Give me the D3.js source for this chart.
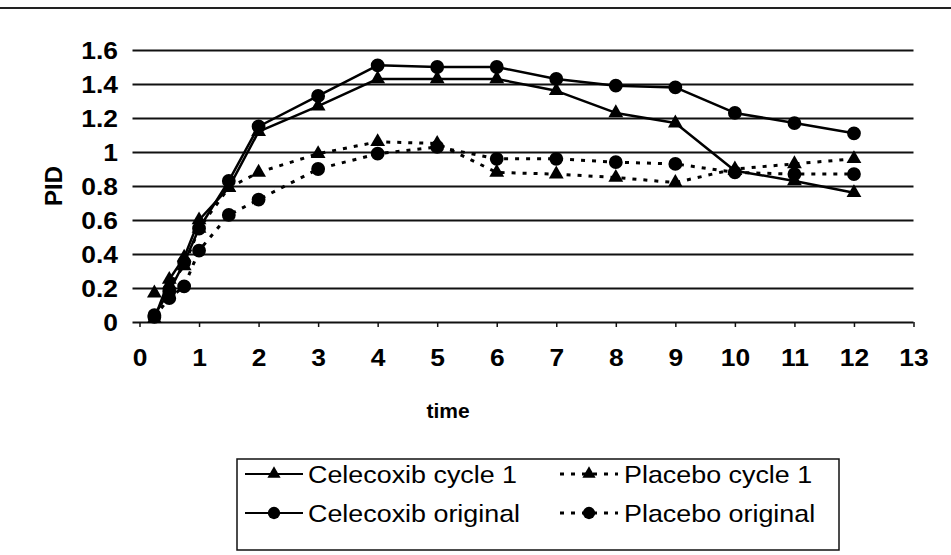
<!DOCTYPE html>
<html>
<head>
<meta charset="utf-8">
<script src="https://cdn.jsdelivr.net/npm/d3@7/dist/d3.min.js"></script>
<style>
  html, body { margin: 0; padding: 0; background: #fff; }
  svg { display: block; font-family: "Liberation Sans", Arial, sans-serif; }
</style>
</head>
<body>
<svg id="chart" width="951" height="555"></svg>
<script>
// Measurement times (hours)
const times = [0.25, 0.5, 0.75, 1, 1.5, 2, 3, 4, 5, 6, 7, 8, 9, 10, 11, 12];

// Pain intensity difference per series
const celecoxibCycle1   = [0.02, 0.25, 0.38, 0.60, 0.79, 1.12, 1.27, 1.43, 1.43, 1.43, 1.36, 1.23, 1.17, 0.89, 0.83, 0.76];
const placeboCycle1     = [0.17, 0.22, 0.33, 0.55, 0.79, 0.88, 0.99, 1.06, 1.05, 0.88, 0.87, 0.85, 0.82, 0.90, 0.93, 0.96];
const celecoxibOriginal = [0.04, 0.18, 0.35, 0.55, 0.83, 1.15, 1.33, 1.51, 1.50, 1.50, 1.43, 1.39, 1.38, 1.23, 1.17, 1.11];
const placeboOriginal   = [0.03, 0.14, 0.21, 0.42, 0.63, 0.72, 0.90, 0.99, 1.03, 0.96, 0.96, 0.94, 0.93, 0.88, 0.87, 0.87];

const seriesNames = ["Celecoxib cycle 1", "Placebo cycle 1", "Celecoxib original", "Placebo original"];
const seriesValues = [celecoxibCycle1, placeboCycle1, celecoxibOriginal, placeboOriginal];

const xTicks = [0, 1, 2, 3, 4, 5, 6, 7, 8, 9, 10, 11, 12, 13];
const yTicks = [0, 0.2, 0.4, 0.6, 0.8, 1, 1.2, 1.4, 1.6];

const xTitle = "time";
const yTitle = "PID";

// Visual styling per series
const styles = [
  { symbol: d3.symbolTriangle, dashed: false },
  { symbol: d3.symbolTriangle, dashed: true },
  { symbol: d3.symbolCircle,   dashed: false },
  { symbol: d3.symbolCircle,   dashed: true }
];
const symbolSize = s => s === d3.symbolTriangle ? 95 : 150;
const DASH = "4 7";
const TEXT_STRETCH = 1.1;   // glyphs are slightly wide in this layout

const svg = d3.select("#chart");

// page rule at the top
svg.append("line")
  .attr("x1", 0).attr("x2", 951).attr("y1", 8).attr("y2", 8)
  .attr("stroke", "#222").attr("stroke-width", 2);

const x = d3.scaleLinear().domain([0, 13]).range([139.5, 913.5]);
const y = d3.scaleLinear().domain([0, 1.6]).range([322, 50]);

// horizontal gridlines with outward ticks on the value axis
const yAxis = d3.axisLeft(y).tickValues(yTicks).tickSize(0);
const gy = svg.append("g").call(yAxis);
gy.select(".domain").remove();
gy.selectAll(".tick text").remove();
gy.selectAll(".tick line")
  .attr("x1", x(0) - 7).attr("x2", x(13))
  .attr("stroke", "#111").attr("stroke-width", 2);

// y tick labels
svg.append("g").selectAll("text").data(yTicks).join("text")
  .attr("transform", d => `translate(118,${y(d)}) scale(${TEXT_STRETCH},1)`)
  .attr("dy", "0.36em")
  .attr("text-anchor", "end")
  .attr("font-size", 24).attr("font-weight", "bold").attr("fill", "#000")
  .text(d => +d.toFixed(1));

// x axis: small downward ticks and labels
const xAxis = d3.axisBottom(x).tickValues(xTicks).tickSize(5).tickPadding(0)
  .tickFormat(d3.format("d"));
const gx = svg.append("g").attr("transform", `translate(0,${y(0)})`).call(xAxis);
gx.select(".domain").remove();
gx.selectAll(".tick line").attr("stroke", "#111").attr("stroke-width", 1.5);
gx.selectAll(".tick text")
  .attr("y", 0).attr("dy", 0)
  .attr("transform", `translate(0,44) scale(${TEXT_STRETCH},1)`)
  .attr("font-size", 24).attr("font-weight", "bold").attr("fill", "#000")
  .attr("font-family", "'Liberation Sans', Arial, sans-serif");

// axis titles
svg.append("text")
  .attr("x", 448).attr("y", 410).attr("dy", "0.36em")
  .attr("text-anchor", "middle")
  .attr("font-size", 21).attr("font-weight", "bold")
  .text(xTitle);
svg.append("text")
  .attr("transform", "translate(53,186) rotate(-90)")
  .attr("dy", "0.36em")
  .attr("text-anchor", "middle")
  .attr("font-size", 24).attr("font-weight", "bold")
  .text(yTitle);

// series lines and markers
const line = d3.line().x(d => x(d[0])).y(d => y(d[1]));
seriesValues.forEach((vals, i) => {
  const pts = times.map((t, j) => [t, vals[j]]);
  const g = svg.append("g").attr("class", "series");
  g.append("path")
    .attr("d", line(pts))
    .attr("fill", "none").attr("stroke", "#000")
    .attr("stroke-width", styles[i].dashed ? 3 : 2.5)
    .attr("stroke-dasharray", styles[i].dashed ? DASH : null)
    .attr("stroke-linejoin", "round");
  g.selectAll("path.marker").data(pts).join("path")
    .attr("class", "marker")
    .attr("transform", d => `translate(${x(d[0])},${y(d[1])})`)
    .attr("d", d3.symbol(styles[i].symbol, symbolSize(styles[i].symbol)))
    .attr("fill", "#000");
});

// legend
const legend = svg.append("g");
legend.append("rect")
  .attr("x", 237).attr("y", 459).attr("width", 602).attr("height", 91)
  .attr("fill", "#fff").attr("stroke", "#111").attr("stroke-width", 1.5);
const legendPos = [
  { sx: 245, tx: 308, cy: 474 },
  { sx: 560, tx: 624, cy: 474 },
  { sx: 245, tx: 308, cy: 513 },
  { sx: 560, tx: 624, cy: 513 }
];
seriesNames.forEach((name, i) => {
  const p = legendPos[i];
  legend.append("line")
    .attr("x1", p.sx).attr("x2", p.sx + 58).attr("y1", p.cy).attr("y2", p.cy)
    .attr("stroke", "#000")
    .attr("stroke-width", styles[i].dashed ? 3 : 2)
    .attr("stroke-dasharray", styles[i].dashed ? DASH : null);
  legend.append("path")
    .attr("transform", `translate(${p.sx + 29},${p.cy})`)
    .attr("d", d3.symbol(styles[i].symbol, symbolSize(styles[i].symbol) * 0.8))
    .attr("fill", "#000");
  legend.append("text")
    .attr("transform", `translate(${p.tx},${p.cy}) scale(1.12,1)`)
    .attr("dy", "0.36em")
    .attr("font-size", 24).attr("fill", "#000")
    .text(name);
});
</script>
</body>
</html>
